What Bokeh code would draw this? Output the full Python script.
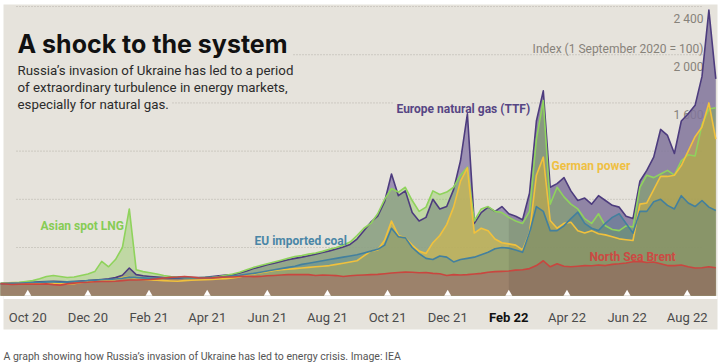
import numpy as np
import pandas as pd
from bokeh.plotting import figure
from bokeh.models import ColumnDataSource, Range1d, BoxAnnotation
from bokeh.core.properties import value
from bokeh.embed import file_html
from bokeh.resources import INLINE

# ---------------- data (index, 1 September 2020 = 100), weekly ----------------
dates = pd.date_range("2020-09-01", periods=105, freq="7D")

ttf = [100, 102, 105, 108, 110, 112, 115, 118, 120, 118,
       115, 118, 122, 125, 130, 135, 140, 150, 170, 230,
       175, 165, 160, 155, 150, 145, 145, 148, 150, 150,
       152, 158, 165, 172, 175, 188, 205, 225, 240, 258,
       270, 285, 298, 310, 320, 332, 345, 358, 372, 388,
       405, 425, 470, 540, 610, 660, 780, 1010, 830, 870,
       690, 620, 650, 800, 720, 740, 880, 1120, 1510, 600,
       690, 735, 700, 740, 680, 660, 630, 850, 1450, 1700,
       900, 930, 980, 870, 790, 810, 760, 830, 790, 750,
       735, 660, 640, 950, 1040, 1150, 1380, 1330, 1180, 1450,
       1510, 1580, 1820, 2370, 1800]

lng = [100, 105, 108, 112, 118, 125, 140, 160, 168, 160,
       151, 155, 168, 180, 200, 285, 240, 300, 400, 720,
       215, 200, 190, 180, 168, 160, 155, 150, 148, 148,
       150, 152, 160, 170, 180, 195, 215, 235, 250, 265,
       280, 295, 310, 325, 334, 345, 355, 368, 385, 400,
       420, 445, 500, 560, 600, 680, 800, 890, 860, 900,
       790, 700, 735, 870, 840, 860, 900, 1000, 1067, 620,
       720, 740, 700, 690, 650, 620, 600, 700, 1300, 1620,
       760, 900, 820, 760, 720, 640, 600, 680, 580, 550,
       540, 580, 570, 900, 1000, 980, 1010, 1040, 1000, 1120,
       1170, 1160, 1420, 1550, 1560]

power = [100, 105, 110, 108, 105, 100, 98, 100, 105, 100,
         95, 100, 110, 115, 120, 125, 130, 135, 150, 160,
         140, 135, 130, 128, 125, 122, 120, 125, 128, 130,
         132, 135, 138, 142, 148, 155, 170, 180, 190, 200,
         210, 215, 220, 225, 230, 235, 240, 245, 250, 260,
         270, 280, 290, 330, 370, 380, 460, 620, 500, 480,
         420, 370, 350, 440, 500, 590, 735, 950, 1060, 520,
         560, 540, 470, 440, 430, 420, 380, 520, 1000, 1150,
         624, 560, 600, 610, 540, 520, 540, 514, 505, 490,
         472, 465, 458, 760, 770, 880, 990, 990, 1000, 1080,
         1200, 1320, 1400, 1600, 1300]

coal = [100, 102, 104, 106, 108, 110, 112, 115, 115, 112,
        115, 118, 120, 125, 128, 132, 135, 138, 145, 155,
        150, 148, 145, 145, 148, 150, 152, 150, 148, 148,
        150, 152, 155, 160, 165, 170, 178, 185, 195, 205,
        215, 225, 235, 245, 260, 270, 280, 290, 300, 310,
        320, 330, 340, 355, 370, 385, 420, 560, 490, 480,
        400, 350, 310, 300, 330, 320, 280, 300, 310, 320,
        340, 360, 390, 400, 395, 380, 360, 520, 740, 700,
        540, 540, 580, 640, 693, 600, 560, 541, 600, 650,
        680, 600, 520, 700, 700, 780, 800, 750, 720, 830,
        770, 740, 790, 735, 707]

brent = [100, 97, 93, 95, 96, 97, 96, 98, 92, 88,
         98, 104, 110, 112, 116, 118, 118, 120, 125, 130,
         130, 132, 135, 140, 147, 152, 155, 160, 155, 148,
         147, 148, 152, 155, 155, 160, 162, 158, 160, 165,
         168, 172, 175, 175, 176, 175, 168, 172, 170, 167,
         160, 165, 170, 172, 175, 177, 182, 188, 192, 196,
         195, 190, 192, 185, 182, 168, 175, 172, 175, 180,
         185, 195, 200, 202, 205, 212, 215, 225, 250, 290,
         240, 265, 245, 240, 245, 250, 248, 255, 250, 260,
         265, 272, 282, 285, 275, 280, 265, 250, 250, 255,
         240, 230, 232, 240, 232]

tick_dates = ["2020-10-01", "2020-12-01", "2021-02-01", "2021-04-01", "2021-06-01", "2021-08-01",
              "2021-10-01", "2021-12-01", "2022-02-01", "2022-04-01", "2022-06-01", "2022-08-01"]
tick_labels = ["Oct 20", "Dec 20", "Feb 21", "Apr 21", "Jun 21", "Aug 21",
               "Oct 21", "Dec 21", "Feb 22", "Apr 22", "Jun 22", "Aug 22"]
highlight_tick = "Feb 22"
y_levels = [400, 800, 1200, 1600, 2000, 2400]
y_labelled = [2400, 2000, 1600]
invasion_period_start = "2022-02-01"

# ---------------- helpers (layout) ----------------
EPOCH = pd.Timestamp("1970-01-01")
BASE = pd.Timestamp("2020-09-01")
DAY = 86400000.0


def ms(d):
    return (pd.Timestamp(d) - EPOCH).total_seconds() * 1000.0


def fx(px):
    # horizontal layout position (pixel) -> time coordinate
    return ms(BASE) + (px + 2.3) * 1.0145 * DAY


def vy(py):
    # vertical layout position (pixel) -> index coordinate
    return (295.2 - py) * 8.3


BG = "#e6e3dc"
C_TTF_L, C_TTF_F = "#4d3c7e", "#8f83ac"
C_LNG_L, C_LNG_F = "#8fd35c", "#86c94f"
C_PWR_L, C_PWR_F = "#f1c13c", "#f2c12e"
C_COAL_L, C_COAL_F = "#43809e", "#3d7f94"
C_BRENT_L, C_BRENT_F = "#c9463f", "#9c826b"

x = [ms(d) for d in dates]
src = ColumnDataSource(dict(x=x, ttf=ttf, lng=lng, power=power, coal=coal, brent=brent))

p = figure(width=720, height=363, output_backend="svg", toolbar_location=None,
           x_range=Range1d(fx(0), fx(720)), y_range=Range1d(vy(363), vy(0)),
           x_axis_location=None, y_axis_location=None,
           min_border=0, min_border_left=0, min_border_right=0, min_border_top=0, min_border_bottom=0,
           background_fill_color="white", border_fill_color="white", outline_line_color=None)
p.grid.visible = False

# beige chart panel
p.add_layout(BoxAnnotation(left=fx(3), right=fx(717), top=vy(4), bottom=vy(329),
                           fill_color=BG, fill_alpha=1, line_color=None, level="underlay"))

# dotted gridlines (with gaps where text sits)
gx0, gx1, gy = [], [], []
starts = {2400: 16, 2000: 293, 1600: 172, 1200: 16, 800: 16, 400: 16}
for lv in y_levels:
    if lv == 1600:
        gx0 += [fx(172), fx(531)]
        gx1 += [fx(392), fx(703)]
        gy += [lv, lv]
    else:
        gx0.append(fx(starts[lv]))
        gx1.append(fx(703))
        gy.append(lv)
p.segment(x0=gx0, y0=gy, x1=gx1, y1=gy, line_color="#b4b0a8", line_width=1, line_dash="1 2")

# y value labels (behind data)
ylab_y = [lv - 12.5 * 8.3 for lv in y_labelled]
p.text(x=[fx(703)] * len(y_labelled), y=ylab_y,
       text=[f"{v:,}".replace(",", " ") for v in y_labelled],
       text_font=value("Roboto"), text_font_size="12px", text_color="#86827a",
       text_align="right", text_baseline="alphabetic")
p.text(x=[fx(703)], y=[vy(48.5)], text=["Index (1 September 2020 = 100)"],
       text_font=value("Roboto"), text_font_size="12px", text_color="#86827a",
       text_align="right", text_baseline="alphabetic")

# areas
p.varea(x="x", y1=0, y2="ttf", source=src, fill_color=C_TTF_F, fill_alpha=0.85)
p.varea(x="x", y1=0, y2="lng", source=src, fill_color=C_LNG_F, fill_alpha=0.4)
p.varea(x="x", y1=0, y2="power", source=src, fill_color=C_PWR_F, fill_alpha=0.42)
p.varea(x="x", y1=0, y2="coal", source=src, fill_color=C_COAL_F, fill_alpha=0.3)
p.varea(x="x", y1=0, y2="brent", source=src, fill_color=C_BRENT_F, fill_alpha=1.0)

# darker shading for the period since Feb 22
env = np.max(np.vstack([ttf, lng, power, coal, brent]), axis=0)
mask = np.array([d >= pd.Timestamp(invasion_period_start) for d in dates])
p.varea(x=list(np.array(x)[mask]), y1=0, y2=list(env[mask]), fill_color="#000000", fill_alpha=0.08)

# lines
for col, c in [("ttf", C_TTF_L), ("lng", C_LNG_L), ("power", C_PWR_L), ("coal", C_COAL_L), ("brent", C_BRENT_L)]:
    p.line(x="x", y=col, source=src, line_color=c, line_width=1.6, line_join="round")

# baseline and tick marks
p.segment(x0=[fx(3)], y0=[vy(297)], x1=[fx(717)], y1=[vy(297)], line_color="white", line_width=3)
tx = [ms(d) for d in tick_dates]
p.scatter(x=tx, y=[vy(293.2)] * len(tx), marker="triangle", size=7, fill_color="white", line_color=None)
tsrc = ColumnDataSource(dict(
    x=tx, y=[vy(317)] * len(tx), text=tick_labels,
    style=["bold" if t == highlight_tick else "normal" for t in tick_labels],
    color=["#111111" if t == highlight_tick else "#4a4a4a" for t in tick_labels]))
p.text(x="x", y="y", text="text", source=tsrc, text_font=value("Roboto"), text_font_size="13px",
       text_font_style="style", text_color="color", text_align="center", text_baseline="alphabetic")

# title and subtitle
p.text(x=[fx(17)], y=[vy(43.3)], text=["A shock to the system"], text_font=value("Inter"),
       text_font_size="25px", text_font_style="bold", text_color="#111111", text_baseline="alphabetic")
sub = ["Russia\u2019s invasion of Ukraine has led to a period",
       "of extraordinary turbulence in energy markets,",
       "especially for natural gas."]
p.text(x=[fx(17)] * 3, y=[vy(70), vy(87), vy(103.5)], text=sub, text_font=value("Roboto"),
       text_font_size="13.3px", text_color="#2b2b2b", text_baseline="alphabetic")

# series labels
labels = [("Asian spot LNG", 40, 225, "#86cc55"),
          ("EU imported coal", 254, 240, "#4a86a6"),
          ("Europe natural gas (TTF)", 396, 108.5, "#564684"),
          ("German power", 551, 165, "#efc043"),
          ("North Sea Brent", 589, 256.5, "#cc4a44")]
for t, lx, ly, c in labels:
    p.text(x=[fx(lx)], y=[vy(ly)], text=[t], text_font=value("Roboto"), text_font_size="12px",
           text_font_style="bold", text_color=c, text_baseline="alphabetic")

# caption
p.text(x=[fx(3)], y=[vy(355.5)],
       text=["A graph showing how Russia\u2019s invasion of Ukraine has led to energy crisis. Image: IEA"],
       text_font=value("Roboto"), text_font_size="10.5px", text_color="#555555", text_baseline="alphabetic")

open("out.html", "w").write(file_html(p, INLINE))
